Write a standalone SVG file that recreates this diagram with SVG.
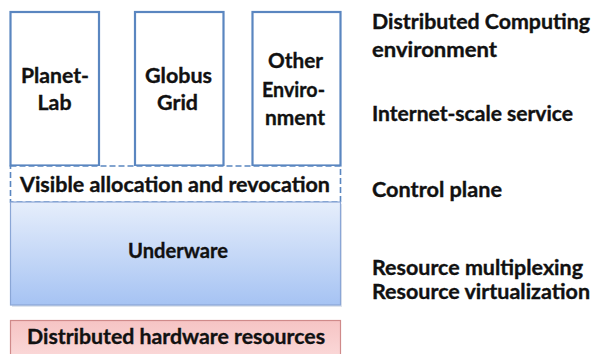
<svg xmlns="http://www.w3.org/2000/svg" width="592" height="354" viewBox="0 0 592 354">
<defs>
<linearGradient id="gBlue" x1="0" y1="0" x2="0" y2="1">
<stop offset="0" stop-color="#e6eefb"/>
<stop offset="1" stop-color="#a6c3f3"/>
</linearGradient>
<linearGradient id="gRed" x1="0" y1="0" x2="0" y2="1">
<stop offset="0" stop-color="#f6c4c4"/>
<stop offset="1" stop-color="#fbdada"/>
</linearGradient>
</defs>
<style>
text{font-family:"Lato","Liberation Sans",sans-serif;font-weight:bold;fill:#111;stroke:#111;stroke-width:0.35}
.env{fill:#fff;stroke:#5a86c0;stroke-width:2.2}
.c{text-anchor:middle;font-size:21px}
.r{font-size:20px}
</style>
<rect width="592" height="354" fill="#fff"/>
<g id="planetlab">
<rect class="env" x="10.5" y="12" width="88.5" height="153.5"/>
<text class="c" x="55" y="83" textLength="68" lengthAdjust="spacingAndGlyphs">Planet-</text>
<text class="c" x="54.5" y="110" textLength="34" lengthAdjust="spacingAndGlyphs">Lab</text>
</g>
<g id="globus">
<rect class="env" x="135" y="12" width="88.5" height="153.5"/>
<text class="c" x="178.5" y="83" textLength="67" lengthAdjust="spacingAndGlyphs">Globus</text>
<text class="c" x="177.5" y="110" textLength="41" lengthAdjust="spacingAndGlyphs">Grid</text>
</g>
<g id="other">
<rect class="env" x="252.5" y="12" width="88" height="153.5"/>
<text class="c" x="295.5" y="68" textLength="55" lengthAdjust="spacingAndGlyphs">Other</text>
<text class="c" x="293.5" y="97" textLength="63" lengthAdjust="spacingAndGlyphs">Enviro-</text>
<text class="c" x="295" y="125" textLength="60" lengthAdjust="spacingAndGlyphs">nment</text>
</g>
<g id="control">
<rect x="10.5" y="166" width="330" height="36" fill="#fff" stroke="#5a86c0" stroke-width="1.6" stroke-dasharray="6 3"/>
<text class="c" x="175" y="192" textLength="310" lengthAdjust="spacingAndGlyphs">Visible allocation and revocation</text>
</g>
<g id="underware">
<rect x="12" y="204" width="330" height="103" fill="#c9d3e3" opacity="0.6"/>
<rect x="10.5" y="202" width="330" height="103" fill="url(#gBlue)" stroke="#8aa6d6" stroke-width="1.2"/>
<text class="c" x="178" y="258" textLength="100" lengthAdjust="spacingAndGlyphs">Underware</text>
</g>
<g id="hardware">
<rect x="10.5" y="320.5" width="330" height="40" fill="url(#gRed)" stroke="#d08a8a" stroke-width="1.2"/>
<text class="c" x="176" y="344" textLength="298" lengthAdjust="spacingAndGlyphs">Distributed hardware resources</text>
</g>
<g id="labels">
<text class="r" x="372" y="29" textLength="218" lengthAdjust="spacingAndGlyphs">Distributed Computing</text>
<text class="r" x="372" y="57" textLength="125" lengthAdjust="spacingAndGlyphs">environment</text>
<text class="r" x="372" y="121" textLength="201" lengthAdjust="spacingAndGlyphs">Internet-scale service</text>
<text class="r" x="372" y="197" textLength="130" lengthAdjust="spacingAndGlyphs">Control plane</text>
<text class="r" x="372" y="275" textLength="211" lengthAdjust="spacingAndGlyphs">Resource multiplexing</text>
<text class="r" x="372" y="299" textLength="218" lengthAdjust="spacingAndGlyphs">Resource virtualization</text>
</g>
<g id="connectors"/>
</svg>
